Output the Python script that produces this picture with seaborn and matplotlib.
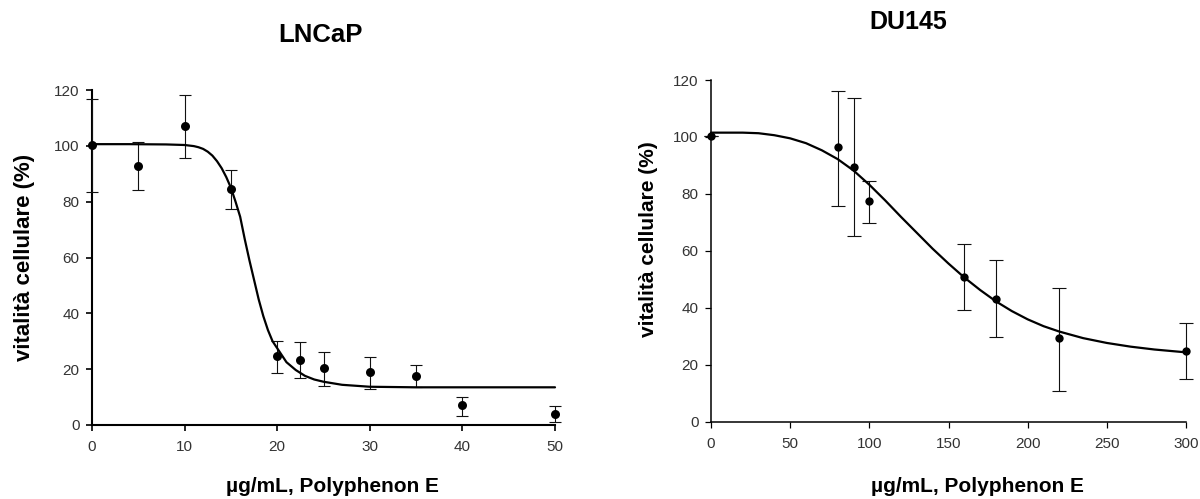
import numpy as np
import pandas as pd
import matplotlib
matplotlib.use("Agg")
import matplotlib.pyplot as plt
import seaborn as sns

lncap_dose = [0, 5, 10, 15, 20, 22.5, 25, 30, 35, 40, 50]
lncap_vit = [100.3, 92.6, 107.2, 84.6, 24.7, 23.3, 20.3, 18.9, 17.6, 7.0, 3.9]
lncap_top = [116.6, 101.3, 118.3, 91.4, 30.1, 29.6, 26.3, 24.5, 21.5, 10.2, 6.9]
lncap_bot = [83.5, 84.1, 95.7, 77.3, 18.7, 16.8, 14.0, 12.8, 13.5, 3.4, 0.9]

# LNCaP fitted curve
lncap_fit_x = [0, 4, 8, 10, 11, 11.5, 12, 12.5, 13, 13.5, 14, 14.5, 15, 15.5, 16, 16.5, 17,
               17.5, 18, 18.5, 19, 19.5, 20, 21, 22, 23, 24, 25, 27, 30, 35, 40, 45, 50]
lncap_fit_y = [100.6, 100.6, 100.5, 100.3, 99.9, 99.5, 98.9, 97.9, 96.5, 94.5, 92.0, 88.8,
               85.0, 80.0, 74.6, 66.5, 59.0, 52.0, 45.0, 39.0, 34.0, 30.0, 27.5, 22.5, 19.7,
               17.6, 16.3, 15.5, 14.4, 13.7, 13.5, 13.5, 13.5, 13.5]

# DU145 measured points
du_dose = [0, 80, 90, 100, 160, 180, 220, 300]
du_vit = [100.3, 96.3, 89.5, 77.4, 50.8, 43.1, 29.2, 24.9]
du_top = [100.3, 116.1, 113.8, 84.6, 62.2, 56.6, 47.0, 34.5]
du_bot = [100.3, 75.8, 65.2, 69.9, 39.1, 29.8, 10.8, 15.1]

# DU145 fitted curve
du_fit_x = [0, 20, 30, 40, 50, 60, 70, 80, 90, 100, 110, 120, 130, 140, 150, 160, 170,
            180, 190, 200, 210, 220, 235, 250, 265, 280, 290, 300]
du_fit_y = [101.5, 101.5, 101.3, 100.6, 99.5, 97.8, 95.3, 92.2, 88.2, 83.2, 77.7, 71.9,
            66.3, 60.7, 55.5, 50.6, 46.2, 42.2, 38.8, 35.9, 33.5, 31.6, 29.3, 27.6, 26.3,
            25.3, 24.8, 24.3]

sns.set_style("ticks")
plt.rcParams['font.family'] = ['Liberation Sans', 'DejaVu Sans']
plt.rcParams['text.color'] = 'black'

fig = plt.figure(figsize=(12, 4.99), dpi=100)
ax1 = fig.add_axes([92/1200, 1-425/499, 463/1200, 335/499])
ax2 = fig.add_axes([711/1200, 1-421.5/499, 475/1200, 341.5/499])


def draw(ax, dose, vit, top, bot, fx, fy, xmax, xstep, spine_w, ms, cap):
    pts = pd.DataFrame({"dose": dose, "vit": vit})
    fit = pd.DataFrame({"dose": fx, "vit": fy})
    lo = np.array(vit) - np.array(bot)
    hi = np.array(top) - np.array(vit)
    ax.errorbar(dose, vit, yerr=[lo, hi], fmt="none", ecolor="#111111",
                elinewidth=0.8, capsize=cap, capthick=0.8, clip_on=False, zorder=3)
    sns.lineplot(data=fit, x="dose", y="vit", ax=ax, color="black", lw=1.6,
                 estimator=None, sort=True, zorder=4)
    ax.lines[-1].set_clip_on(False)
    sns.scatterplot(data=pts, x="dose", y="vit", ax=ax, color="black", s=ms,
                    edgecolor="black", linewidth=0, clip_on=False, zorder=5)
    ax.set_xlim(0, xmax)
    ax.set_ylim(0, 120)
    ax.set_xticks(np.arange(0, xmax + 1, xstep))
    ax.set_yticks(np.arange(0, 121, 20))
    ax.set_xlabel("")
    ax.set_ylabel("")
    sns.despine(ax=ax)
    for s in ["left", "bottom"]:
        ax.spines[s].set_linewidth(spine_w)
        ax.spines[s].set_color("black")
    ax.tick_params(direction="out", length=4, width=spine_w * 0.8, color="black",
                   labelsize=11, labelcolor="#333333")
    ax.tick_params(axis="x", pad=7)
    ax.tick_params(axis="y", pad=5)


draw(ax1, lncap_dose, lncap_vit, lncap_top, lncap_bot, lncap_fit_x, lncap_fit_y,
     50, 10, 1.5, 42, 4.5)
draw(ax2, du_dose, du_vit, du_top, du_bot, du_fit_x, du_fit_y,
     300, 50, 1.1, 36, 5)

fig.text(320/1200, 1-35/499, "LNCaP", ha="center", va="center", fontsize=18.5,
         fontweight="bold", color="black")
fig.text(908/1200, 1-22/499, "DU145", ha="center", va="center", fontsize=18,
         fontweight="bold", color="black")
fig.text(332/1200, 1-487/499, "µg/mL, Polyphenon E", ha="center", va="center", fontsize=15,
         fontweight="bold", color="black")
fig.text(977/1200, 1-486/499, "µg/mL, Polyphenon E", ha="center", va="center", fontsize=15,
         fontweight="bold", color="black")
fig.text(25/1200, 1-257/499, "vitalità cellulare (%)", ha="center", va="center", rotation=90,
         fontsize=16, fontweight="bold", color="black")
fig.text(648/1200, 1-239/499, "vitalità cellulare (%)", ha="center", va="center", rotation=90,
         fontsize=15, fontweight="bold", color="black")

fig.savefig("out.png", dpi=100, facecolor="white")
